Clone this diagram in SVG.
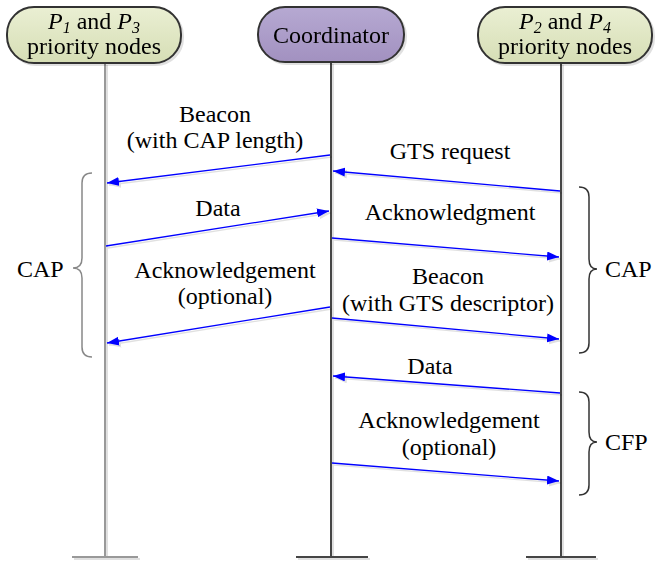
<svg xmlns="http://www.w3.org/2000/svg" width="655" height="563" viewBox="0 0 655 563">
<defs>
<linearGradient id="gGreen" x1="0" y1="0" x2="0" y2="1"><stop offset="0" stop-color="#eaefd3"/><stop offset="1" stop-color="#d6deb5"/></linearGradient>
<linearGradient id="gPurple" x1="0" y1="0" x2="0" y2="1"><stop offset="0" stop-color="#b6a9d2"/><stop offset="1" stop-color="#a291c0"/></linearGradient>
<filter id="sh" filterUnits="userSpaceOnUse" x="0" y="0" width="655" height="563">
<feOffset in="SourceAlpha" dx="2" dy="2" result="o"/>
<feFlood flood-color="#000" flood-opacity="0.12"/>
<feComposite in2="o" operator="in"/>
<feMerge><feMergeNode/><feMergeNode in="SourceGraphic"/></feMerge>
</filter>
<marker id="ah" markerUnits="userSpaceOnUse" markerWidth="14" markerHeight="10" refX="12" refY="4.5" orient="auto">
<path d="M0,0 L12,4.5 L0,9 z" fill="#0000ff"/>
</marker>
</defs>
<style>
text{font-family:"Liberation Serif","Times New Roman",serif;font-size:24px;fill:#000}
.lbl{text-anchor:middle}
.node rect{stroke:#333;stroke-width:2}
.life{stroke-width:2;fill:none}
.msg{stroke:#0000ff;stroke-width:1.3;fill:none;marker-end:url(#ah)}
.brace{fill:none;stroke-width:1.5}
</style>

<g id="lifelines" filter="url(#sh)">
<path class="life" stroke="#999" d="M105,63 V557 M72,557 H138"/>
<path class="life" stroke="#444" d="M331,62 V557 M296,557 H368"/>
<path class="life" stroke="#444" d="M561,63 V557 M526,557 H596"/>
</g>

<g id="node-p13" class="node" filter="url(#sh)">
<rect x="7" y="7" width="174" height="56" rx="27" fill="url(#gGreen)"/>
<text class="lbl" x="94" y="29"><tspan font-style="italic">P</tspan><tspan font-style="italic" font-size="16" dy="4">1</tspan><tspan dy="-4"> and </tspan><tspan font-style="italic">P</tspan><tspan font-style="italic" font-size="16" dy="4">3</tspan></text>
<text class="lbl" x="94" y="54">priority nodes</text>
</g>

<g id="node-coord" class="node" filter="url(#sh)">
<rect x="258" y="7" width="146" height="55" rx="27" fill="url(#gPurple)"/>
<text class="lbl" x="331" y="43">Coordinator</text>
</g>

<g id="node-p24" class="node" filter="url(#sh)">
<rect x="478" y="7" width="174" height="56" rx="27" fill="url(#gGreen)"/>
<text class="lbl" x="565" y="29"><tspan font-style="italic">P</tspan><tspan font-style="italic" font-size="16" dy="4">2</tspan><tspan dy="-4"> and </tspan><tspan font-style="italic">P</tspan><tspan font-style="italic" font-size="16" dy="4">4</tspan></text>
<text class="lbl" x="565" y="54">priority nodes</text>
</g>

<g id="connectors" filter="url(#sh)">
<line class="msg" x1="330" y1="155" x2="107" y2="183"/>
<line class="msg" x1="560" y1="191" x2="333" y2="171"/>
<line class="msg" x1="106" y1="246" x2="329" y2="211"/>
<line class="msg" x1="332" y1="238" x2="559" y2="257"/>
<line class="msg" x1="330" y1="307" x2="107" y2="343"/>
<line class="msg" x1="332" y1="318" x2="559" y2="339"/>
<line class="msg" x1="560" y1="393" x2="333" y2="376"/>
<line class="msg" x1="332" y1="463" x2="559" y2="481"/>
</g>

<g id="labels">
<text class="lbl" x="215" y="122">Beacon</text>
<text class="lbl" x="215" y="148">(with CAP length)</text>
<text class="lbl" x="450" y="159">GTS request</text>
<text class="lbl" x="218" y="216">Data</text>
<text class="lbl" x="450" y="220">Acknowledgment</text>
<text class="lbl" x="225" y="278">Acknowledgement</text>
<text class="lbl" x="225" y="304">(optional)</text>
<text class="lbl" x="448" y="284">Beacon</text>
<text class="lbl" x="448" y="311">(with GTS descriptor)</text>
<text class="lbl" x="430" y="374">Data</text>
<text class="lbl" x="449" y="428">Acknowledgement</text>
<text class="lbl" x="449" y="455">(optional)</text>
</g>

<g id="brace-cap-left">
<path class="brace" stroke="#888" d="M92,173 Q82,173 82,183 L82,258 Q82,268 73,268 Q82,268 82,278 L82,347 Q82,357 92,357"/>
<text x="17" y="277">CAP</text>
</g>
<g id="brace-cap-right">
<path class="brace" stroke="#333" d="M579,187 Q589,187 589,197 L589,259 Q589,269 597,269 Q589,269 589,279 L589,343 Q589,353 579,353"/>
<text x="605" y="277">CAP</text>
</g>
<g id="brace-cfp">
<path class="brace" stroke="#333" d="M579,392 Q589,392 589,402 L589,432 Q589,442 597,442 Q589,442 589,452 L589,485 Q589,495 579,495"/>
<text x="605" y="450">CFP</text>
</g>
</svg>
